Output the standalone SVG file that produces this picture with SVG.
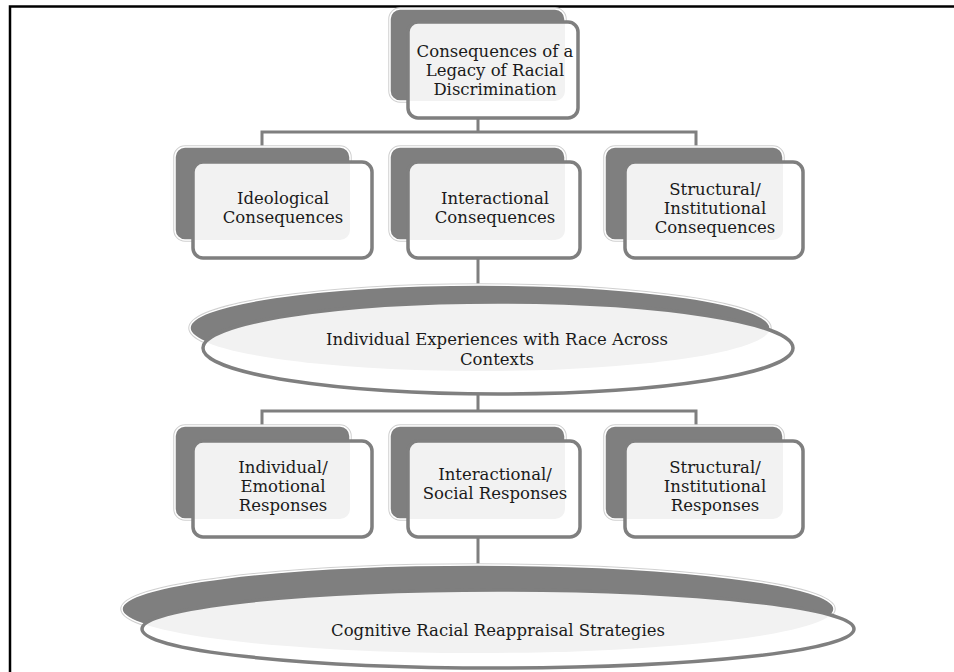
<svg xmlns="http://www.w3.org/2000/svg" width="954" height="672" viewBox="0 0 954 672">
<style>
.back{fill:#7f7f7f;stroke:#ffffff;stroke-width:1.5}
.halo{fill:none;stroke:#d0d0d0;stroke-width:3.5}
.front{fill:none;stroke:#7f7f7f;stroke-width:3.5}
.white{fill:#ffffff}
.light{fill:#f2f2f2}
.conn{fill:none;stroke:#7f7f7f;stroke-width:3}
text{font-family:"DejaVu Serif","Liberation Serif",serif;font-size:16.5px;fill:#1a1a1a;text-anchor:middle}
</style>
<defs>
<clipPath id="cTop"><rect x="408" y="22" width="170" height="96" rx="10"/></clipPath>
<clipPath id="cA1"><rect x="193" y="162" width="179" height="96" rx="10"/></clipPath>
<clipPath id="cB1"><rect x="408" y="162" width="172" height="96" rx="10"/></clipPath>
<clipPath id="cC1"><rect x="625" y="162" width="178" height="96" rx="10"/></clipPath>
<clipPath id="cA2"><rect x="193" y="441" width="179" height="96" rx="10"/></clipPath>
<clipPath id="cB2"><rect x="408" y="441" width="172" height="96" rx="10"/></clipPath>
<clipPath id="cC2"><rect x="625" y="441" width="178" height="96" rx="10"/></clipPath>
<clipPath id="cE1"><ellipse cx="498" cy="348" rx="295" ry="46"/></clipPath>
<clipPath id="cE2"><ellipse cx="498" cy="629" rx="356" ry="39"/></clipPath>
</defs>
<rect x="10" y="6.5" width="960" height="690" fill="#ffffff" stroke="#000" stroke-width="2.5"/>
<g id="connectors">
<path class="conn" d="M478,118 V132 M262,147 V132 H696 V147"/>
<path class="conn" d="M478,258 V292"/>
<path class="conn" d="M478,394 V411 M262,426 V411 H696 V426"/>
<path class="conn" d="M478,537 V568"/>
</g>
<g id="n-top">
<rect class="halo" x="390" y="9" width="175" height="92" rx="10"/>
<rect class="back" x="390" y="9" width="175" height="92" rx="10"/>
<rect class="white" x="408" y="22" width="170" height="96" rx="10"/>
<rect class="light" x="390" y="9" width="175" height="92" rx="10" clip-path="url(#cTop)"/>
<rect class="front" x="408" y="22" width="170" height="96" rx="10"/>
<text x="495" y="57">Consequences of a</text>
<text x="495" y="76">Legacy of Racial</text>
<text x="495" y="95">Discrimination</text>
</g>
<g id="n-ideological">
<rect class="halo" x="175" y="147" width="175" height="93" rx="10"/>
<rect class="back" x="175" y="147" width="175" height="93" rx="10"/>
<rect class="white" x="193" y="162" width="179" height="96" rx="10"/>
<rect class="light" x="175" y="147" width="175" height="93" rx="10" clip-path="url(#cA1)"/>
<rect class="front" x="193" y="162" width="179" height="96" rx="10"/>
<text x="283" y="204">Ideological</text>
<text x="283" y="223">Consequences</text>
</g>
<g id="n-interactional">
<rect class="halo" x="390" y="147" width="175" height="93" rx="10"/>
<rect class="back" x="390" y="147" width="175" height="93" rx="10"/>
<rect class="white" x="408" y="162" width="172" height="96" rx="10"/>
<rect class="light" x="390" y="147" width="175" height="93" rx="10" clip-path="url(#cB1)"/>
<rect class="front" x="408" y="162" width="172" height="96" rx="10"/>
<text x="495" y="204">Interactional</text>
<text x="495" y="223">Consequences</text>
</g>
<g id="n-structural">
<rect class="halo" x="605" y="147" width="178" height="93" rx="10"/>
<rect class="back" x="605" y="147" width="178" height="93" rx="10"/>
<rect class="white" x="625" y="162" width="178" height="96" rx="10"/>
<rect class="light" x="605" y="147" width="178" height="93" rx="10" clip-path="url(#cC1)"/>
<rect class="front" x="625" y="162" width="178" height="96" rx="10"/>
<text x="715" y="195">Structural/</text>
<text x="715" y="214">Institutional</text>
<text x="715" y="233">Consequences</text>
</g>
<g id="n-experiences">
<ellipse class="halo" cx="480" cy="328" rx="290" ry="43"/>
<ellipse class="back" cx="480" cy="328" rx="290" ry="43"/>
<ellipse class="white" cx="498" cy="348" rx="295" ry="46"/>
<ellipse class="light" cx="480" cy="328" rx="290" ry="43" clip-path="url(#cE1)"/>
<ellipse class="front" cx="498" cy="348" rx="295" ry="46"/>
<text x="497" y="345">Individual Experiences with Race Across</text>
<text x="497" y="365">Contexts</text>
</g>
<g id="n-emotional">
<rect class="halo" x="175" y="426" width="175" height="93" rx="10"/>
<rect class="back" x="175" y="426" width="175" height="93" rx="10"/>
<rect class="white" x="193" y="441" width="179" height="96" rx="10"/>
<rect class="light" x="175" y="426" width="175" height="93" rx="10" clip-path="url(#cA2)"/>
<rect class="front" x="193" y="441" width="179" height="96" rx="10"/>
<text x="283" y="473">Individual/</text>
<text x="283" y="492">Emotional</text>
<text x="283" y="511">Responses</text>
</g>
<g id="n-social">
<rect class="halo" x="390" y="426" width="175" height="93" rx="10"/>
<rect class="back" x="390" y="426" width="175" height="93" rx="10"/>
<rect class="white" x="408" y="441" width="172" height="96" rx="10"/>
<rect class="light" x="390" y="426" width="175" height="93" rx="10" clip-path="url(#cB2)"/>
<rect class="front" x="408" y="441" width="172" height="96" rx="10"/>
<text x="495" y="480">Interactional/</text>
<text x="495" y="499">Social Responses</text>
</g>
<g id="n-institutional">
<rect class="halo" x="605" y="426" width="178" height="93" rx="10"/>
<rect class="back" x="605" y="426" width="178" height="93" rx="10"/>
<rect class="white" x="625" y="441" width="178" height="96" rx="10"/>
<rect class="light" x="605" y="426" width="178" height="93" rx="10" clip-path="url(#cC2)"/>
<rect class="front" x="625" y="441" width="178" height="96" rx="10"/>
<text x="715" y="473">Structural/</text>
<text x="715" y="492">Institutional</text>
<text x="715" y="511">Responses</text>
</g>
<g id="n-reappraisal">
<ellipse class="halo" cx="478" cy="609" rx="356" ry="44"/>
<ellipse class="back" cx="478" cy="609" rx="356" ry="44"/>
<ellipse class="white" cx="498" cy="629" rx="356" ry="39"/>
<ellipse class="light" cx="478" cy="609" rx="356" ry="44" clip-path="url(#cE2)"/>
<ellipse class="front" cx="498" cy="629" rx="356" ry="39"/>
<text x="498" y="636">Cognitive Racial Reappraisal Strategies</text>
</g>
</svg>
